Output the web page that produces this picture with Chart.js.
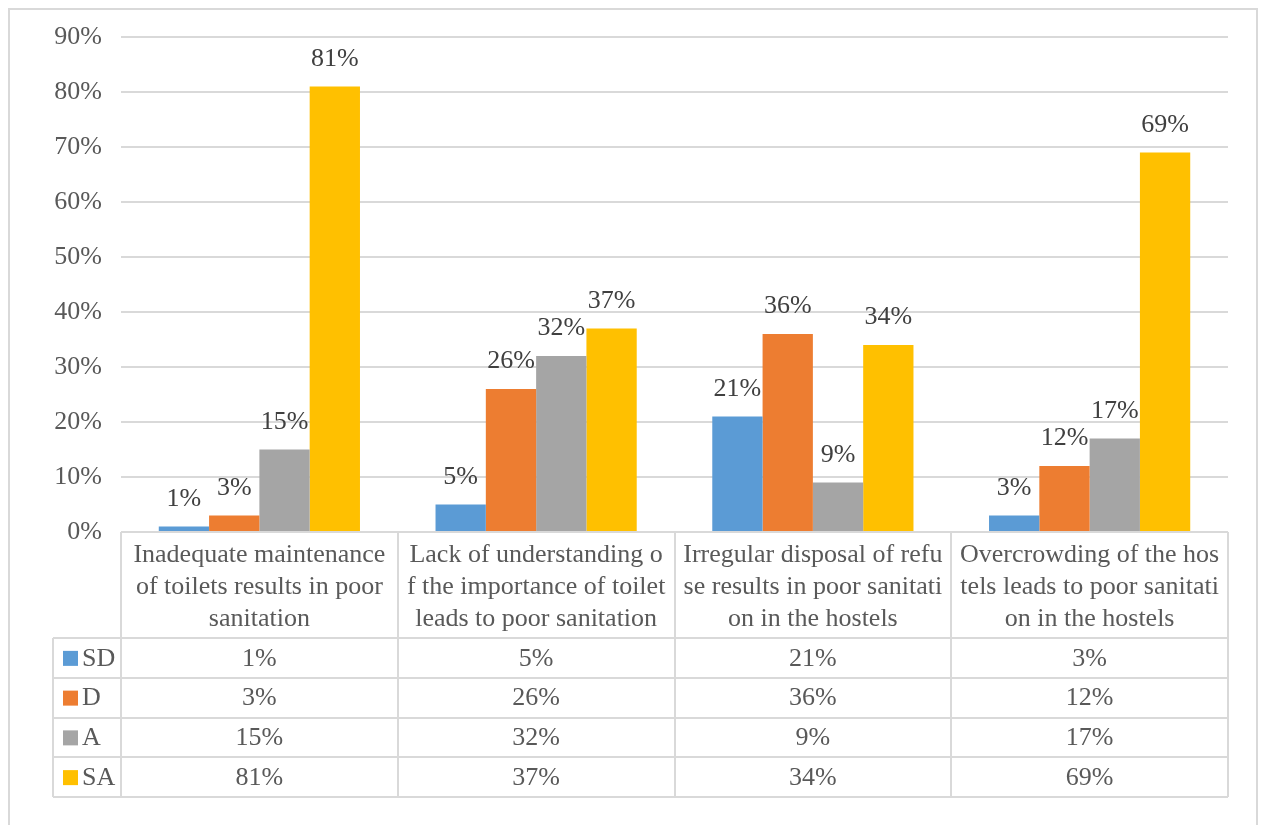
<!DOCTYPE html>
<html>
<head>
<meta charset="utf-8">
<script src="https://cdn.jsdelivr.net/npm/chart.js@4/dist/chart.umd.min.js"></script>
<style>
  body { margin: 0; background: #fff; }
  canvas { display: block; }
</style>
</head>
<body>
<canvas id="surveyChart" width="1262" height="825"></canvas>
<script>
// statements as they appear in the data table (line breaks kept as printed)
const categories = [
    ['Inadequate maintenance', 'of toilets results in poor', 'sanitation'],
    ['Lack of understanding o', 'f the importance of toilet', 'leads to poor sanitation'],
    ['Irregular disposal of refu', 'se results in poor sanitati', 'on in the hostels'],
    ['Overcrowding of the hos', 'tels leads to poor sanitati', 'on in the hostels']
];
const seriesNames = ['SD', 'D', 'A', 'SA'];
const sdValues = [1, 5, 21, 3];
const dValues = [3, 26, 36, 12];
const aValues = [15, 32, 9, 17];
const saValues = [81, 37, 34, 69];
const yTicks = [0, 10, 20, 30, 40, 50, 60, 70, 80, 90];

const colors = ['#5b9bd5', '#ed7d31', '#a5a5a5', '#ffc000'];
const FONT = '"Liberation Serif", "Times New Roman", serif';
const FONT_SIZE = 26;
const TEXT = '#595959';
const LINE = '#d9d9d9';

const headerHeight = 106;
const rowHeight = 39.75;
const tableLeft = 53;

// value labels above each bar
const barLabels = {
    id: 'barLabels',
    afterDatasetsDraw(chart) {
        const ctx = chart.ctx;
        ctx.save();
        ctx.font = FONT_SIZE + 'px ' + FONT;
        ctx.fillStyle = '#404040';
        ctx.textAlign = 'center';
        ctx.textBaseline = 'alphabetic';
        chart.data.datasets.forEach((ds, i) => {
            chart.getDatasetMeta(i).data.forEach((bar, j) => {
                ctx.fillText(ds.data[j] + '%', bar.x, bar.y - 21);
            });
        });
        ctx.restore();
    }
};

// frame plus the data table under the plot
const dataTable = {
    id: 'dataTable',
    beforeDraw(chart) {
        const ctx = chart.ctx;
        ctx.save();
        ctx.strokeStyle = LINE;
        ctx.lineWidth = 2;
        ctx.strokeRect(9, 9, 1248, 840);
        ctx.restore();
    },
    afterDraw(chart) {
        const ctx = chart.ctx;
        const x = chart.scales.x;
        const area = chart.chartArea;
        const catW = (area.right - area.left) / categories.length;
        const top = area.bottom;
        const rowsTop = top + headerHeight;
        const bottom = rowsTop + rowHeight * seriesNames.length;

        ctx.save();
        ctx.strokeStyle = LINE;
        ctx.lineWidth = 2;
        ctx.beginPath();
        // header row
        ctx.moveTo(area.left, top);
        ctx.lineTo(area.right, top);
        for (let i = 0; i <= categories.length; i++) {
            const bx = Math.round(area.left + catW * i);
            ctx.moveTo(bx, top);
            ctx.lineTo(bx, bottom);
        }
        // series rows
        for (let r = 0; r <= seriesNames.length; r++) {
            const ry = Math.round(rowsTop + rowHeight * r);
            ctx.moveTo(tableLeft, ry);
            ctx.lineTo(area.right, ry);
        }
        ctx.moveTo(tableLeft, rowsTop);
        ctx.lineTo(tableLeft, bottom);
        ctx.stroke();

        ctx.font = FONT_SIZE + 'px ' + FONT;
        ctx.fillStyle = TEXT;
        ctx.textAlign = 'center';
        ctx.textBaseline = 'middle';
        categories.forEach((lines, i) => {
            const cx = x.getPixelForValue(i);
            lines.forEach((line, k) => {
                ctx.fillText(line, cx, top + 23 + k * 32);
            });
        });

        chart.data.datasets.forEach((ds, r) => {
            const cy = rowsTop + rowHeight * (r + 0.5);
            ctx.fillStyle = colors[r];
            ctx.fillRect(tableLeft + 10, cy - 7, 15, 15);
            ctx.fillStyle = TEXT;
            ctx.textAlign = 'left';
            ctx.fillText(ds.label, tableLeft + 29, cy + 1);
            ctx.textAlign = 'center';
            ds.data.forEach((v, j) => {
                ctx.fillText(v + '%', x.getPixelForValue(j), cy + 1);
            });
        });
        ctx.restore();
    }
};

const ctx = document.getElementById('surveyChart').getContext('2d');
new Chart(ctx, {
    type: 'bar',
    data: {
        labels: categories.map(c => c.join(' ')),
        datasets: [sdValues, dValues, aValues, saValues].map((vals, i) => ({
            label: seriesNames[i],
            data: vals,
            backgroundColor: colors[i],
            borderWidth: 0
        }))
    },
    options: {
        responsive: false,
        animation: false,
        layout: { padding: { left: 0, top: 37, right: 34, bottom: 293 } },
        datasets: { bar: { categoryPercentage: 0.727, barPercentage: 1 } },
        scales: {
            x: { display: false },
            y: {
                min: yTicks[0],
                max: yTicks[yTicks.length - 1],
                afterFit: s => { s.width = 121; },
                afterBuildTicks: s => { s.ticks = yTicks.map(v => ({ value: v })); },
                border: { display: false },
                grid: { color: LINE, lineWidth: 2, drawTicks: false },
                ticks: {
                    padding: 19,
                    color: TEXT,
                    font: { family: FONT, size: FONT_SIZE },
                    callback: v => v + '%'
                }
            }
        },
        plugins: {
            legend: { display: false },
            tooltip: { enabled: false }
        }
    },
    plugins: [barLabels, dataTable]
});
</script>
</body>
</html>
